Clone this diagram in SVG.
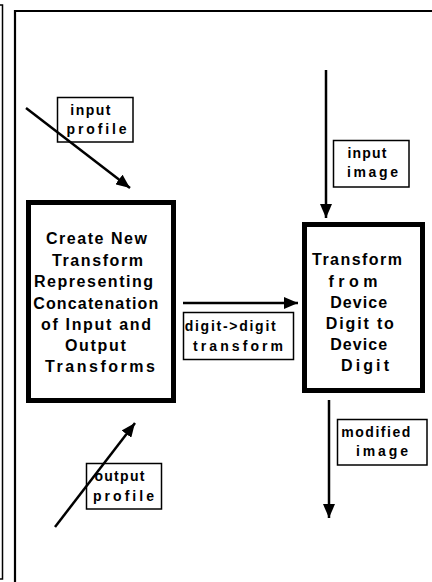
<svg xmlns="http://www.w3.org/2000/svg" width="432" height="582" viewBox="0 0 432 582">
<style>
.frame{fill:none;stroke:#000}
.box{fill:#fff;stroke:#000;stroke-width:5}
.lbl{fill:#fff;stroke:#000;stroke-width:1.5}
.big{font-family:"Liberation Sans",Arial,sans-serif;font-weight:bold;font-size:16px;fill:#000}
.sm{font-family:"Liberation Sans",Arial,sans-serif;font-weight:bold;font-size:14px;fill:#000}
.conn{fill:none;stroke:#000;stroke-width:2.5}
</style>
<defs>
<marker id="ah" markerUnits="userSpaceOnUse" viewBox="0 0 14 12" refX="14" refY="6" markerWidth="14" markerHeight="12" orient="auto">
<path d="M0,0 L14,6 L0,12 Z" fill="#000"/>
</marker>
</defs>
<path class="frame" d="M0,5 H2.5 V579 H0" stroke-width="1.5"/>
<path class="frame" d="M15,582 V11 H432" stroke-width="2.2"/>
<g id="create-transform">
<rect class="box" x="28.5" y="202.5" width="145" height="198"/>
<text class="big" text-anchor="middle">
<tspan x="99.5" y="244" textLength="101" lengthAdjust="spacing">Create New</tspan>
<tspan x="100.5" y="265.5" textLength="91" lengthAdjust="spacing">Transform</tspan>
<tspan x="96.5" y="287" textLength="119" lengthAdjust="spacing">Representing</tspan>
<tspan x="98.5" y="308.5" textLength="125" lengthAdjust="spacing">Concatenation</tspan>
<tspan x="99" y="330" textLength="110" lengthAdjust="spacing">of Input and</tspan>
<tspan x="98.5" y="351" textLength="61" lengthAdjust="spacing">Output</tspan>
<tspan x="100" y="372" textLength="110" lengthAdjust="spacing">Transforms</tspan>
</text>
</g>
<g id="device-transform">
<rect class="box" x="304.5" y="224.5" width="118" height="166"/>
<text class="big" text-anchor="middle">
<tspan x="360" y="265" textLength="90" lengthAdjust="spacing">Transform</tspan>
<tspan x="357.5" y="286.5" textLength="49" lengthAdjust="spacing">from</tspan>
<tspan x="361.5" y="307.5" textLength="57" lengthAdjust="spacing">Device</tspan>
<tspan x="363" y="329" textLength="68" lengthAdjust="spacing">Digit to</tspan>
<tspan x="361.5" y="350" textLength="57" lengthAdjust="spacing">Device</tspan>
<tspan x="365" y="371" textLength="48" lengthAdjust="spacing">Digit</tspan>
</text>
</g>
<g id="label-input-profile">
<rect class="lbl" x="57.5" y="97.5" width="75.5" height="44.5"/>
<text class="sm" text-anchor="middle">
<tspan x="93" y="115" textLength="40" lengthAdjust="spacing">input</tspan>
<tspan x="96.5" y="134" textLength="60" lengthAdjust="spacing">profile</tspan>
</text>
</g>
<g id="label-input-image">
<rect class="lbl" x="333.5" y="140.5" width="75.5" height="46.5"/>
<text class="sm" text-anchor="middle">
<tspan x="369.5" y="158" textLength="39" lengthAdjust="spacing">input</tspan>
<tspan x="372.5" y="177" textLength="51" lengthAdjust="spacing">image</tspan>
</text>
</g>
<g id="label-digit-transform">
<rect class="lbl" x="183.5" y="312.5" width="110" height="47"/>
<text class="sm" text-anchor="middle">
<tspan x="233" y="331" textLength="91" lengthAdjust="spacing">digit-&gt;digit</tspan>
<tspan x="238" y="351" textLength="90" lengthAdjust="spacing">transform</tspan>
</text>
</g>
<g id="label-output-profile">
<rect class="lbl" x="86.5" y="463.5" width="75" height="45.5"/>
<text class="sm" text-anchor="middle">
<tspan x="122" y="481" textLength="50" lengthAdjust="spacing">output</tspan>
<tspan x="123.5" y="501" textLength="61" lengthAdjust="spacing">profile</tspan>
</text>
</g>
<g id="label-modified-image">
<rect class="lbl" x="337.5" y="419.5" width="89.5" height="45.5"/>
<text class="sm" text-anchor="middle">
<tspan x="378.5" y="437" textLength="69" lengthAdjust="spacing">modified</tspan>
<tspan x="382" y="456" textLength="52" lengthAdjust="spacing">image</tspan>
</text>
</g>
<g id="connectors">
<line class="conn" x1="26" y1="108" x2="130" y2="188" marker-end="url(#ah)"/>
<line class="conn" x1="326" y1="70" x2="326" y2="218" marker-end="url(#ah)"/>
<line class="conn" x1="183" y1="303" x2="298" y2="303" marker-end="url(#ah)"/>
<line class="conn" x1="55" y1="527" x2="135" y2="423" marker-end="url(#ah)"/>
<line class="conn" x1="329" y1="400" x2="329" y2="518" marker-end="url(#ah)"/>
</g>
</svg>
